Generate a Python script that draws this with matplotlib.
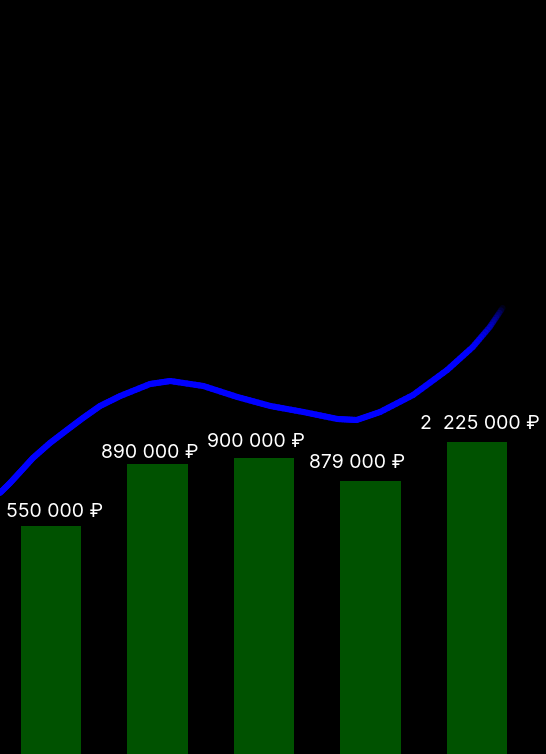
import numpy as np
import matplotlib
matplotlib.use('Agg')
import matplotlib.pyplot as plt
from matplotlib.collections import LineCollection

plt.rcParams['font.family'] = ['Inter', 'DejaVu Sans']

# bars
bar_labels = ['550 000 ₽', '890 000 ₽', '900 000 ₽', '879 000 ₽', '2  225 000 ₽']
bar_heights = [228, 290, 296, 273, 312]
# small per-label nudges (pixels) as in the source picture
nudge_x = [4, -8, -8, -13, 3]
nudge_y = [9, 6, 11, 13, 13]

# blue trend line (x in bar slots)
line_x = [-0.48, -0.385, -0.29, -0.17, -0.01, 0.15, 0.30, 0.46, 0.65, 0.93,
          1.12, 1.43, 1.75, 2.06, 2.37, 2.69, 2.87, 3.09, 3.40, 3.72,
          3.96, 4.12, 4.24]
line_y = [261, 271, 282, 296, 311, 324, 336, 348, 358, 370,
          373, 368, 357, 348, 342, 335, 334, 342, 359, 384,
          407, 427, 446]

fig = plt.figure(figsize=(5.46, 7.54), dpi=100, facecolor='black')
ax = fig.add_axes([0, 0, 1, 1])
ax.set_facecolor('black')

xs = np.arange(len(bar_heights))
bars = ax.bar(xs, bar_heights, width=0.565, color='#005200', zorder=1)

for b, lab, dx, dy in zip(bars, bar_labels, nudge_x, nudge_y):
    ax.annotate(lab, (b.get_x() + b.get_width() / 2, b.get_height()),
                xytext=(dx * 0.72, dy * 0.72), textcoords='offset points',
                ha='center', va='baseline', color='white', fontsize=14,
                zorder=3)

# line with a fade-out at the right end (gradient only, same geometry)
pts = np.column_stack([line_x, line_y])
segs = []
for a, b in zip(pts[:-1], pts[1:]):
    t = np.linspace(0, 1, 9)
    sub = a + (b - a) * t[:, None]
    segs.extend([[sub[i], sub[i + 1]] for i in range(len(sub) - 1)])
segs = np.array(segs)
mid_x = segs[:, :, 0].mean(axis=1)
alpha = np.clip((4.27 - mid_x) / (4.27 - 3.90), 0, 1)
cols = np.zeros((len(segs), 4))
cols[:, 2] = 1.0
cols[:, 3] = alpha
lc = LineCollection(segs, colors=cols, linewidths=4.4, capstyle='round',
                    joinstyle='round', zorder=2)
ax.add_collection(lc)

ax.set_xlim(-0.479, 4.648)
ax.set_ylim(0, 754)
ax.axis('off')

fig.savefig('out.png', dpi=100, facecolor='black')
